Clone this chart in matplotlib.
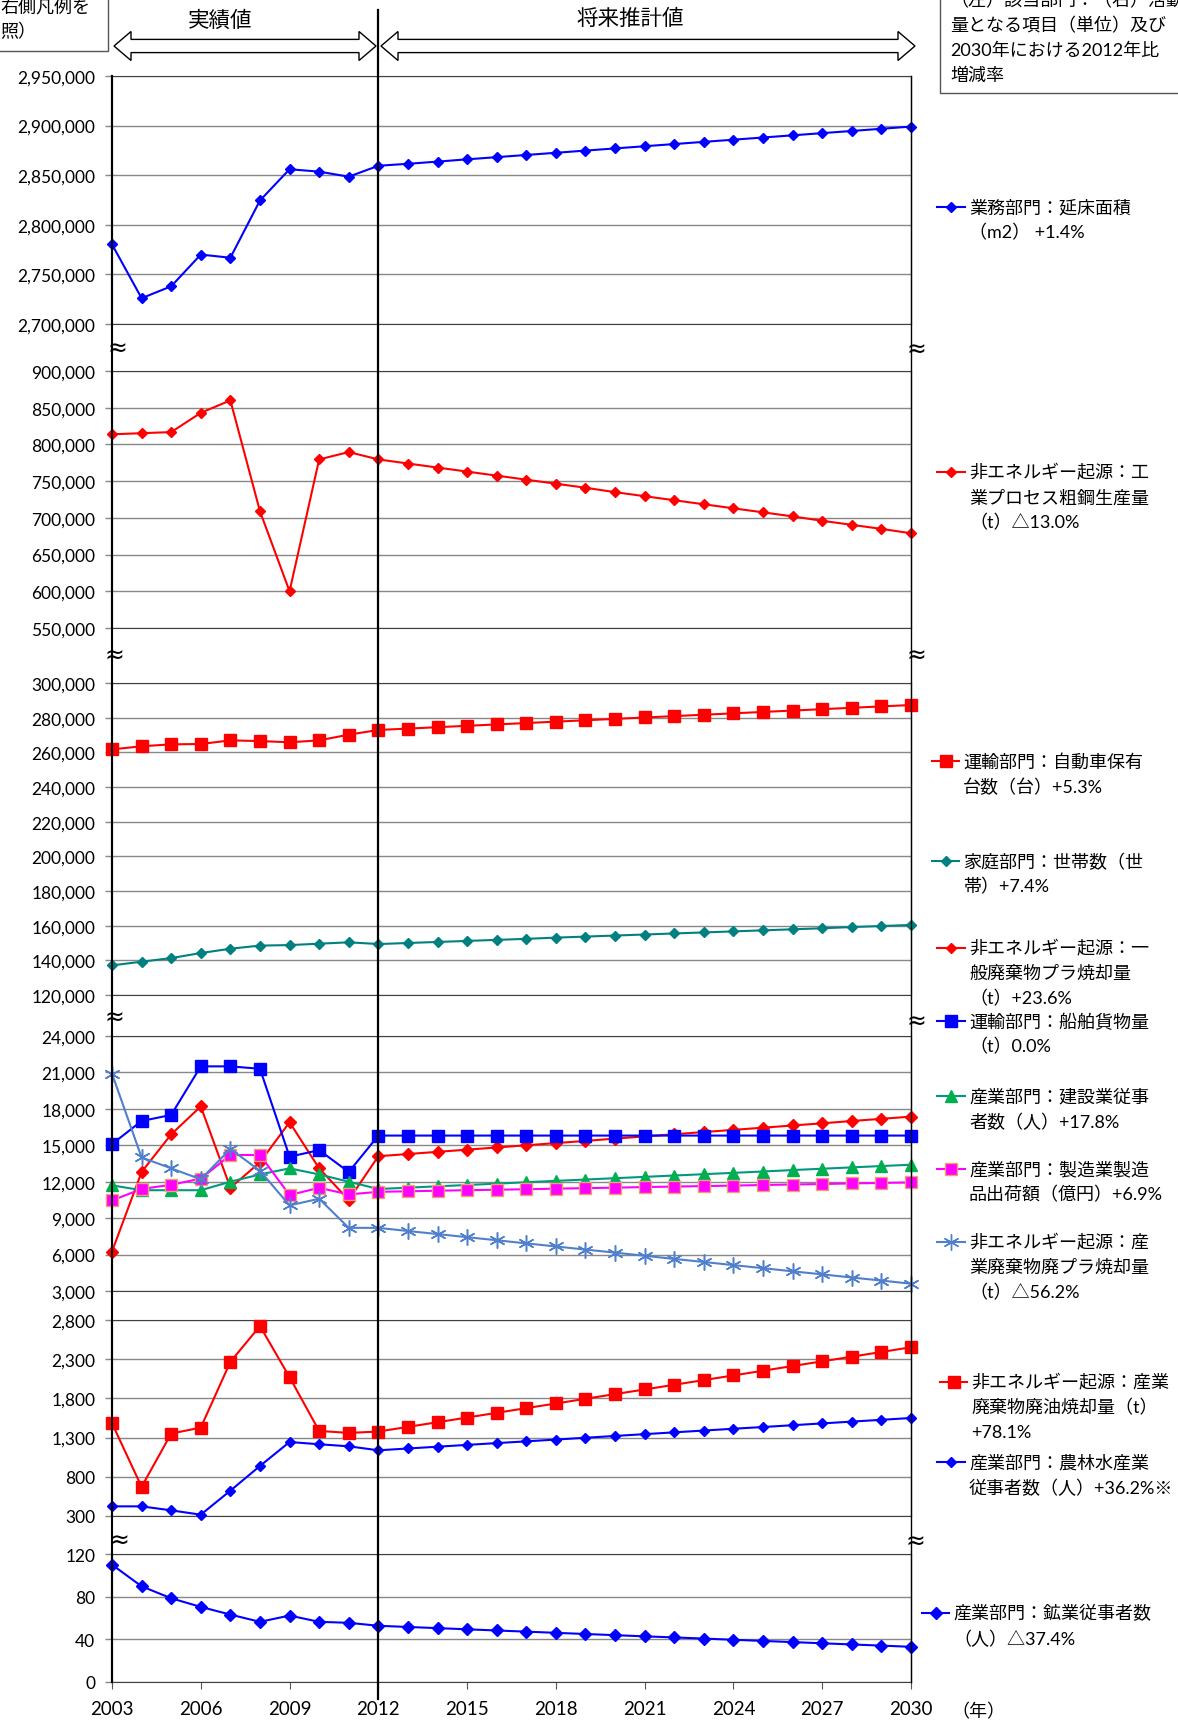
import matplotlib
matplotlib.use('Agg')
import matplotlib.pyplot as plt
import numpy as np
from matplotlib.lines import Line2D
from matplotlib.patches import Polygon, Rectangle
from matplotlib.ticker import FuncFormatter
import matplotlib.transforms as mtransforms

plt.rcParams['font.family'] = ['Lato', 'Noto Sans CJK JP', 'DejaVu Sans']

W, H = 1178, 1724


def fx(x):
    return x / W


def fy(y):
    return 1 - y / H


years = np.arange(2003, 2031)

# 業務部門：延床面積 (m2)
floor_area = [2780300, 2726000, 2738000, 2770000, 2766800, 2824500, 2856000, 2853600, 2848500,
              2859500, 2861500, 2863700, 2866000, 2868200, 2870400, 2872600, 2874800, 2877000,
              2879200, 2881400, 2883600, 2885800, 2888000, 2890200, 2892400, 2894600, 2896800, 2899000]
# 非エネルギー起源：工業プロセス粗鋼生産量 (t)
steel = [813800, 815300, 816800, 843000, 860000, 709000, 600000, 779600, 789600,
         779600, 774000, 768500, 763000, 757500, 752000, 746500, 741000, 735000,
         729500, 724000, 718500, 713000, 707500, 702000, 696000, 690500, 685000, 679000]
# 運輸部門：自動車保有台数 (台)
cars = [261700, 263500, 264600, 264800, 266900, 266500, 265800, 266900, 270200,
        272900, 273700, 274500, 275300, 276100, 276900, 277700, 278500, 279300,
        280100, 280900, 281700, 282500, 283300, 284100, 284900, 285700, 286500, 287300]
# 家庭部門：世帯数 (世帯)
households = [137100, 139200, 141300, 144200, 146700, 148500, 148800, 149600, 150400,
              149400, 150000, 150600, 151200, 151800, 152400, 153100, 153700, 154300,
              154900, 155500, 156100, 156700, 157300, 157900, 158500, 159200, 159800, 160400]
# 非エネルギー起源：一般廃棄物プラ焼却量 (t)
gen_plastic = [6250, 12800, 15900, 18200, 11500, 13600, 16900, 13100, 10500,
               14100, 14280, 14460, 14640, 14820, 15000, 15180, 15360, 15550,
               15730, 15910, 16090, 16270, 16450, 16630, 16810, 17000, 17180, 17360]
# 運輸部門：船舶貨物量 (t)
ships = [15100, 17000, 17500, 21500, 21500, 21300, 14060, 14600, 12800,
         15800, 15800, 15800, 15800, 15800, 15800, 15800, 15800, 15800,
         15800, 15800, 15800, 15800, 15800, 15800, 15800, 15800, 15800, 15800]
# 産業部門：建設業従事者数 (人)
construction = [11700, 11300, 11300, 11300, 12000, 12600, 13100, 12600, 12000,
                11400, 11510, 11620, 11730, 11840, 11960, 12070, 12180, 12290,
                12400, 12510, 12620, 12730, 12840, 12960, 13070, 13180, 13290, 13400]
# 産業部門：製造業製造品出荷額 (億円)
manufacturing = [10460, 11400, 11750, 12250, 14200, 14200, 10900, 11500, 10950,
                 11170, 11210, 11260, 11300, 11340, 11380, 11430, 11470, 11510,
                 11560, 11600, 11640, 11680, 11730, 11770, 11810, 11860, 11900, 11940]
# 非エネルギー起源：産業廃棄物廃プラ焼却量 (t)
ind_plastic = [20900, 14000, 13100, 12200, 14700, 12900, 10050, 10600, 8200,
               8200, 7940, 7690, 7430, 7180, 6920, 6670, 6410, 6160,
               5900, 5640, 5390, 5130, 4880, 4620, 4370, 4110, 3860, 3600]
# 非エネルギー起源：産業廃棄物廃油焼却量 (t)
waste_oil = [1483, 672, 1351, 1428, 2266, 2723, 2071, 1385, 1360,
             1377, 1437, 1496, 1556, 1616, 1676, 1735, 1795, 1855,
             1914, 1974, 2034, 2093, 2153, 2213, 2273, 2332, 2392, 2452]
# 産業部門：農林水産業従事者数 (人)
agriculture = [423, 423, 372, 317, 623, 938, 1244, 1215, 1189,
               1138, 1161, 1184, 1207, 1230, 1252, 1275, 1298, 1321,
               1344, 1367, 1390, 1413, 1435, 1458, 1481, 1504, 1527, 1550]
# 産業部門：鉱業従事者数 (人)
mining = [110, 89.7, 78.5, 70.4, 63.2, 56.4, 62.3, 56.4, 55.5,
          52.7, 51.6, 50.5, 49.4, 48.3, 47.2, 46.1, 45.0, 43.9,
          42.8, 41.8, 40.7, 39.6, 38.5, 37.4, 36.3, 35.2, 34.1, 33.0]

x_ticks = np.arange(2003, 2031, 3)

BLUE = '#0000FF'
RED = '#FF0000'
TEAL = '#008080'
GREEN = '#00B050'
GREENLINE = '#009980'
PINK = '#FF00FF'
STAR = '#5080CC'

fig = plt.figure(figsize=(W / 100, H / 100), dpi=100)


def panel(top, bottom, ylo, yhi, step):
    ax = fig.add_axes([fx(112), fy(bottom), (911 - 112) / W, (bottom - top) / H])
    ax.set_xlim(2003, 2030)
    ax.set_ylim(ylo, yhi)
    ax.set_yticks(np.arange(ylo, yhi + step / 2, step))
    ax.yaxis.set_major_formatter(FuncFormatter(lambda v, p: f'{int(round(v)):,}'))
    ax.grid(axis='y', color='#888888', lw=1)
    ax.set_axisbelow(True)
    ax.tick_params(axis='y', direction='out', length=5, width=1, color='#888888',
                   labelsize=12.5, pad=7)
    ax.tick_params(axis='x', bottom=False, labelbottom=False)
    ax.spines['top'].set_color('#404040')
    ax.spines['bottom'].set_color('#404040')
    ax.spines['left'].set_color('black')
    ax.spines['left'].set_linewidth(1.5)
    ax.spines['right'].set_color('black')
    return ax


def series(ax, vals, color, marker, ms, mfc=None, mec=None, lw=1.5, mew=1):
    ax.plot(years, vals, color=color, marker=marker, ms=ms, lw=lw,
            mfc=mfc or color, mec=mec or color, mew=mew, clip_on=False, zorder=3)


ax1 = panel(77, 325, 2700000, 2950000, 50000)
series(ax1, floor_area, BLUE, 'D', 5.6)

ax2 = panel(372, 629, 550000, 900000, 50000)
series(ax2, steel, RED, 'D', 5.6)

ax3 = panel(684, 996, 120000, 300000, 20000)
series(ax3, cars, RED, 's', 8.5)
series(ax3, households, TEAL, 'D', 5.0)

ax4 = panel(1037, 1292, 3000, 24000, 3000)
series(ax4, gen_plastic, RED, 'D', 6.3)
series(ax4, ships, BLUE, 's', 8.5)
series(ax4, construction, GREENLINE, '^', 8.0, mfc=GREEN, mec=GREEN)
series(ax4, manufacturing, PINK, 's', 8.5, mec='#F0A070')
series(ax4, ind_plastic, STAR, (6, 2, 0), 11.5, mew=1.1)

ax5 = panel(1321, 1517, 300, 2800, 500)
series(ax5, waste_oil, RED, 's', 8.5)
series(ax5, agriculture, BLUE, 'D', 5.6)

ax6 = panel(1555, 1683, 0, 120, 40)
series(ax6, mining, BLUE, 'D', 5.8)
ax6.set_xticks(x_ticks)
ax6.tick_params(axis='x', bottom=True, labelbottom=True, direction='out', length=5,
                color='#555555', labelsize=13.5, pad=8)

# continuous vertical lines (left / right edges and the 2012 divider)
blend = mtransforms.blended_transform_factory(ax1.transData, fig.transFigure)
fig.add_artist(Line2D([2003, 2003], [fy(77), fy(1683)], transform=blend, color='black', lw=1.5))
fig.add_artist(Line2D([2030, 2030], [fy(77), fy(1683)], transform=blend, color='black', lw=1))
fig.add_artist(Line2D([2012, 2012], [fy(11), fy(1700)], transform=blend, color='black', lw=1.6,
                      zorder=5))

# break marks
for (x, y) in [(117, 349), (114, 656), (114, 1018), (119, 1541),
               (916, 350), (916, 656), (916, 1022), (915, 1542)]:
    fig.text(fx(x), fy(y), '≈', ha='center', va='center', fontsize=17,
             family=['DejaVu Sans'])


# hollow double arrows
def darrow(x0, x1, yc, bh=6.6, hh=14.5, hl=17):
    pts = [(x0, yc), (x0 + hl, yc - hh), (x0 + hl, yc - bh), (x1 - hl, yc - bh),
           (x1 - hl, yc - hh), (x1, yc), (x1 - hl, yc + hh), (x1 - hl, yc + bh),
           (x0 + hl, yc + bh), (x0 + hl, yc + hh)]
    fig.add_artist(Polygon([(fx(a), fy(b)) for a, b in pts], closed=True,
                           transform=fig.transFigure, facecolor='white',
                           edgecolor='black', lw=1))


darrow(114, 376, 47)
darrow(381, 915, 47)
fig.text(fx(220), fy(21), '実績値', ha='center', va='center', fontsize=15.5)
fig.text(fx(630), fy(19), '将来推計値', ha='center', va='center', fontsize=15.5)

# note boxes
fig.add_artist(Rectangle((fx(-10), fy(52)), fx(118), fy(-10) - fy(52),
                         transform=fig.transFigure, facecolor='white', edgecolor='#555555', lw=1))
fig.text(fx(0), fy(7), '右側凡例を', ha='left', va='center', fontsize=13)
fig.text(fx(0), fy(31), '照）', ha='left', va='center', fontsize=13)

fig.add_artist(Rectangle((fx(940), fy(94)), fx(260), fy(-10) - fy(94),
                         transform=fig.transFigure, facecolor='white', edgecolor='#555555', lw=1))
for i, t in enumerate(['（左）該当部門：（右）活動', '量となる項目（単位）及び',
                       '2030年における2012年比', '増減率']):
    fig.text(fx(950), fy(1 + 25 * i), t, ha='left', va='center', fontsize=13)

# legend entries on the right
legend_items = [
    (208, 937, 965, 969, BLUE, 'D', 5.6, BLUE, BLUE, ['業務部門：延床面積', '（m2） +1.4%']),
    (473, 937, 965, 969, RED, 'D', 5.6, RED, RED,
     ['非エネルギー起源：工', '業プロセス粗鋼生産量', '（t）△13.0%']),
    (762, 932, 959, 963, RED, 's', 8.5, RED, RED, ['運輸部門：自動車保有', '台数（台）+5.3%']),
    (862, 932, 959, 963, TEAL, 'D', 5.0, TEAL, TEAL, ['家庭部門：世帯数（世', '帯）+7.4%']),
    (949, 937, 965, 969, RED, 'D', 5.6, RED, RED,
     ['非エネルギー起源：一', '般廃棄物プラ焼却量', '（t）+23.6%']),
    (1022, 937, 965, 969, BLUE, 's', 8.5, BLUE, BLUE, ['運輸部門：船舶貨物量', '（t）0.0%']),
    (1097, 937, 965, 969, GREENLINE, '^', 8.0, GREEN, GREEN, ['産業部門：建設業従事', '者数（人）+17.8%']),
    (1170, 937, 965, 969, PINK, 's', 8.5, PINK, '#F0A070', ['産業部門：製造業製造', '品出荷額（億円）+6.9%']),
    (1243, 937, 965, 969, STAR, (6, 2, 0), 11.5, STAR, STAR,
     ['非エネルギー起源：産', '業廃棄物廃プラ焼却量', '（t）△56.2%']),
    (1383, 940, 967, 971, RED, 's', 8.5, RED, RED,
     ['非エネルギー起源：産業', '廃棄物廃油焼却量（t）', '+78.1%']),
    (1463, 937, 965, 969, BLUE, 'D', 5.6, BLUE, BLUE, ['産業部門：農林水産業', '従事者数（人）+36.2%※']),
    (1614, 922, 949, 953, BLUE, 'D', 5.8, BLUE, BLUE, ['産業部門：鉱業従事者数', '（人）△37.4%']),
]
for y, x0, x1, xt, col, mk, ms, mfc, mec, lines in legend_items:
    fig.add_artist(Line2D([fx(x0), fx(x1)], [fy(y), fy(y)], transform=fig.transFigure,
                          color=col, lw=1.5))
    fig.add_artist(Line2D([fx((x0 + x1) / 2)], [fy(y)], transform=fig.transFigure,
                          marker=mk, ms=ms, mfc=mfc, mec=mec, mew=1, color=col, lw=0))
    for i, t in enumerate(lines):
        fig.text(fx(xt), fy(y + 25 * i), t, ha='left', va='center', fontsize=13)

fig.text(fx(978), fy(1712), '（年）', ha='center', va='center', fontsize=13)

fig.savefig('out.png', dpi=100)
